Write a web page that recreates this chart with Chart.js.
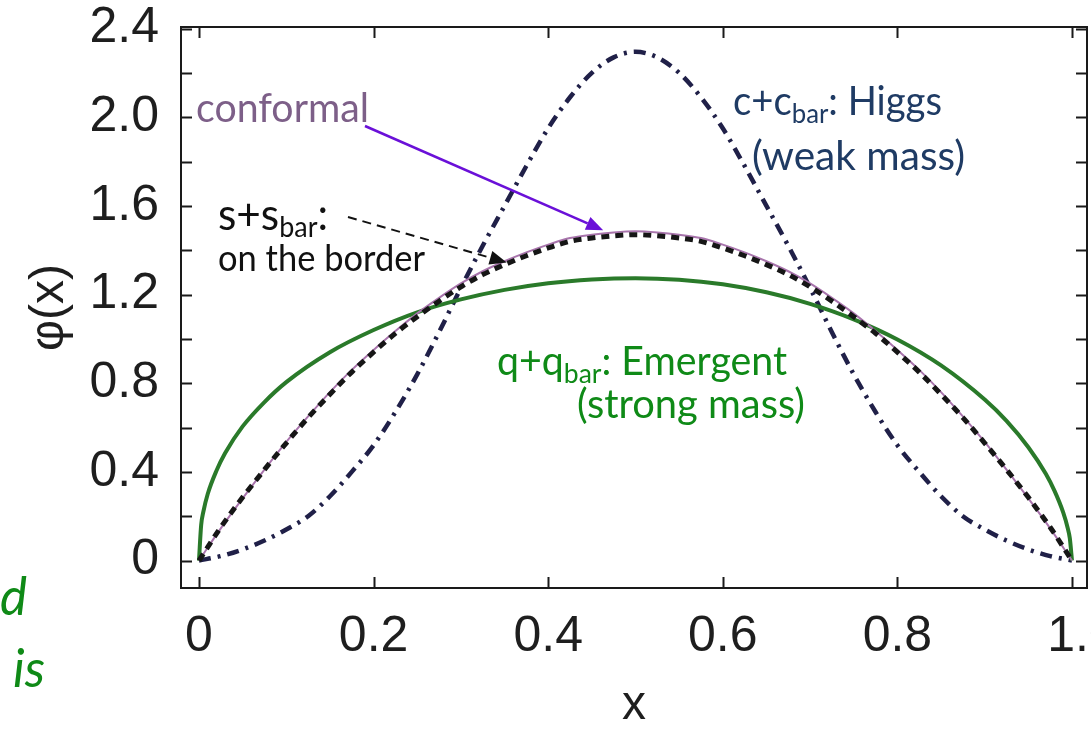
<!DOCTYPE html>
<html>
<head>
<meta charset="utf-8">
<title>Distribution amplitudes</title>
<script src="https://cdn.jsdelivr.net/npm/chart.js@4.4.1/dist/chart.umd.min.js"></script>
<style>
    html, body { margin: 0; padding: 0; background: #ffffff; overflow: hidden; }
    canvas { display: block; }
</style>
</head>
<body>
<canvas id="daChart" width="1091" height="731"></canvas>
<script>
// Axis ticks
const xTicks = [0, 0.2, 0.4, 0.6, 0.8, 1.0];
const xTickLabels = ['0', '0.2', '0.4', '0.6', '0.8', '\u2009\u20091.0'];
const yTicks = [0, 0.4, 0.8, 1.2, 1.6, 2.0, 2.4];
const yTickLabels = ['0', '0.4', '0.8', '1.2', '1.6', '2.0', '2.4'];
const yMinorTicks = [0.2, 0.6, 1.0, 1.4, 1.8, 2.2];

// Sample positions
const xGrid = [0, 0.025, 0.05, 0.075, 0.1, 0.125, 0.15, 0.175, 0.2, 0.225, 0.25, 0.275, 0.3, 0.325, 0.35, 0.375, 0.4, 0.425, 0.45, 0.475, 0.5,
               0.525, 0.55, 0.575, 0.6, 0.625, 0.65, 0.675, 0.7, 0.725, 0.75, 0.775, 0.8, 0.825, 0.85, 0.875, 0.9, 0.925, 0.95, 0.975, 1];

// conformal (thin purple line)
const conformalY = [0, 0.145, 0.28, 0.41, 0.535, 0.65, 0.76, 0.86, 0.95, 1.035, 1.115, 1.185, 1.25, 1.305, 1.35, 1.39, 1.425, 1.455, 1.47, 1.48, 1.485,
                    1.48, 1.47, 1.455, 1.425, 1.39, 1.35, 1.305, 1.25, 1.185, 1.115, 1.035, 0.95, 0.86, 0.76, 0.65, 0.535, 0.41, 0.28, 0.145, 0];

// s + s_bar (black dashed)
const strangeY = [0, 0.15, 0.285, 0.41, 0.53, 0.645, 0.75, 0.85, 0.94, 1.025, 1.1, 1.17, 1.235, 1.29, 1.335, 1.375, 1.41, 1.44, 1.455, 1.465, 1.47,
                  1.465, 1.455, 1.44, 1.41, 1.375, 1.335, 1.29, 1.235, 1.17, 1.1, 1.025, 0.94, 0.85, 0.75, 0.645, 0.53, 0.41, 0.285, 0.15, 0];

// c + c_bar (dash-dot, Higgs)
const charmY = [0, 0.02, 0.05, 0.09, 0.14, 0.2, 0.29, 0.4, 0.52, 0.67, 0.84, 1.03, 1.23, 1.42, 1.6, 1.78, 1.95, 2.09, 2.2, 2.27, 2.295,
                2.27, 2.2, 2.09, 1.95, 1.78, 1.6, 1.42, 1.23, 1.03, 0.84, 0.67, 0.52, 0.4, 0.29, 0.2, 0.14, 0.09, 0.05, 0.02, 0];

// q + q_bar (green solid, emergent)
const lightX = [0, 0.0025, 0.005, 0.01, 0.02, 0.03, 0.05, 0.075, 0.1, 0.15, 0.2, 0.25, 0.3, 0.35, 0.4, 0.45, 0.5,
                0.55, 0.6, 0.65, 0.7, 0.75, 0.8, 0.85, 0.9, 0.925, 0.95, 0.97, 0.98, 0.99, 0.995, 0.9975, 1];
const lightY = [0, 0.16, 0.22, 0.3, 0.405, 0.485, 0.605, 0.715, 0.805, 0.94, 1.04, 1.12, 1.178, 1.221, 1.251, 1.268, 1.274,
                1.267, 1.246, 1.21, 1.158, 1.088, 0.997, 0.88, 0.726, 0.63, 0.511, 0.391, 0.314, 0.216, 0.148, 0.101, 0];

const TEXT_FONT = 'Lato, "Open Sans", sans-serif';

function toPoints(xs, ys) {
    return xs.map((x, i) => ({ x: x, y: ys[i] }));
}

// Draw a line of text made of parts (with subscripts), squeezed to a target width
function drawRichText(ctx, parts, left, baseline, targetWidth, color, style) {
    const fontStyle = style || '';
    let natural = 0;
    parts.forEach(p => {
        ctx.font = fontStyle + ' ' + p.size + 'px ' + TEXT_FONT;
        natural += ctx.measureText(p.t).width;
    });
    const sx = targetWidth ? targetWidth / natural : 1;
    ctx.save();
    ctx.translate(left, baseline);
    ctx.scale(sx, 1);
    ctx.fillStyle = color;
    ctx.textBaseline = 'alphabetic';
    ctx.textAlign = 'left';
    let cx = 0;
    parts.forEach(p => {
        ctx.font = fontStyle + ' ' + p.size + 'px ' + TEXT_FONT;
        ctx.fillText(p.t, cx, p.dy || 0);
        cx += ctx.measureText(p.t).width;
    });
    ctx.restore();
}

function drawArrow(ctx, x0, y0, x1, y1, color, width, dash) {
    const ang = Math.atan2(y1 - y0, x1 - x0);
    const headLen = 17;
    const headHalf = 7;
    ctx.save();
    ctx.strokeStyle = color;
    ctx.fillStyle = color;
    ctx.lineWidth = width;
    ctx.setLineDash(dash || []);
    ctx.beginPath();
    ctx.moveTo(x0, y0);
    ctx.lineTo(x1 - headLen * Math.cos(ang), y1 - headLen * Math.sin(ang));
    ctx.stroke();
    ctx.setLineDash([]);
    ctx.beginPath();
    ctx.moveTo(x1, y1);
    ctx.lineTo(x1 - headLen * Math.cos(ang) + headHalf * Math.sin(ang), y1 - headLen * Math.sin(ang) - headHalf * Math.cos(ang));
    ctx.lineTo(x1 - headLen * Math.cos(ang) - headHalf * Math.sin(ang), y1 - headLen * Math.sin(ang) + headHalf * Math.cos(ang));
    ctx.closePath();
    ctx.fill();
    ctx.restore();
}

// Frame with inward ticks on all four sides
const framePlugin = {
    id: 'frame',
    afterDatasetsDraw(chart) {
        const { ctx, chartArea: a, scales } = chart;
        const xs = scales.x, ys = scales.y;
        ctx.save();
        ctx.strokeStyle = '#1a1a1a';
        ctx.lineWidth = 2;
        ctx.strokeRect(a.left, a.top, a.right - a.left, a.bottom - a.top);
        ctx.beginPath();
        xTicks.forEach(v => {
            const px = Math.round(xs.getPixelForValue(v)) + 0.5;
            ctx.moveTo(px, a.bottom); ctx.lineTo(px, a.bottom - 11);
            ctx.moveTo(px, a.top); ctx.lineTo(px, a.top + 11);
        });
        yTicks.concat(yMinorTicks).forEach(v => {
            const py = Math.round(ys.getPixelForValue(v)) + 0.5;
            ctx.moveTo(a.left, py); ctx.lineTo(a.left + 11, py);
            ctx.moveTo(a.right, py); ctx.lineTo(a.right - 11, py);
        });
        ctx.stroke();
        ctx.restore();
    }
};

// Slide annotations around the plot
const annotationPlugin = {
    id: 'annotations',
    afterDraw(chart) {
        const { ctx, scales } = chart;
        const xs = scales.x, ys = scales.y;

        drawRichText(ctx, [{ t: 'conformal', size: 40 }], 196, 122, 173, '#7d5f88');
        drawArrow(ctx, 365, 126, xs.getPixelForValue(0.463), ys.getPixelForValue(1.49), '#6a10d8', 2.5);

        drawRichText(ctx, [{ t: 's+s', size: 44 }, { t: 'bar', size: 28, dy: 7 }, { t: ':', size: 44 }], 218, 230, 110, '#111111');
        drawRichText(ctx, [{ t: 'on the border', size: 36 }], 218, 271, 207, '#111111');
        drawArrow(ctx, 348, 217, xs.getPixelForValue(0.3525), ys.getPixelForValue(1.345), '#111111', 2, [9, 6]);

        drawRichText(ctx, [{ t: 'c+c', size: 40 }, { t: 'bar', size: 27, dy: 8 }, { t: ': Higgs', size: 40 }], 733, 115, 209, '#1f3b64');
        drawRichText(ctx, [{ t: '(weak mass)', size: 40 }], 752, 170, 213, '#1f3b64');

        drawRichText(ctx, [{ t: 'q+q', size: 40 }, { t: 'bar', size: 27, dy: 8 }, { t: ': Emergent', size: 40 }], 497, 375, 290, '#0f8a17');
        drawRichText(ctx, [{ t: '(strong mass)', size: 40 }], 577, 418, 228, '#0f8a17');

        // fragments of the slide text at the left edge
        drawRichText(ctx, [{ t: 'd', size: 52 }], 0, 615, 27, '#0f8a17', 'italic');
        drawRichText(ctx, [{ t: 'is', size: 52 }], 13, 687, 32, '#0f8a17', 'italic');
    }
};

const tickFont = { family: '"Liberation Sans", Arial, sans-serif', size: 50, lineHeight: 1.2 };

new Chart(document.getElementById('daChart'), {
    type: 'scatter',
    data: {
        datasets: [
            {
                label: 's+s_bar',
                data: toPoints(xGrid, strangeY),
                showLine: true,
                borderColor: '#161616',
                borderWidth: 5,
                borderDash: [8, 6],
                pointRadius: 0,
                cubicInterpolationMode: 'monotone'
            },
            {
                label: 'conformal',
                data: toPoints(xGrid, conformalY),
                showLine: true,
                borderColor: '#a874ac',
                borderWidth: 2,
                pointRadius: 0,
                cubicInterpolationMode: 'monotone'
            },
            {
                label: 'q+q_bar',
                data: toPoints(lightX, lightY),
                showLine: true,
                borderColor: '#2a7a2a',
                borderWidth: 4,
                pointRadius: 0,
                cubicInterpolationMode: 'monotone'
            },
            {
                label: 'c+c_bar',
                data: toPoints(xGrid, charmY),
                showLine: true,
                borderColor: '#202048',
                borderWidth: 4.5,
                borderDash: [12, 7, 3, 7],
                pointRadius: 0,
                cubicInterpolationMode: 'monotone'
            }
        ]
    },
    options: {
        responsive: false,
        animation: false,
        devicePixelRatio: 1,
        layout: { padding: { top: 27, right: 4, left: 0, bottom: 0 } },
        plugins: {
            legend: { display: false },
            tooltip: { enabled: false }
        },
        scales: {
            x: {
                type: 'linear',
                min: -0.0206,
                max: 1.0172,
                afterBuildTicks: scale => { scale.ticks = xTicks.map(v => ({ value: v })); },
                afterFit: scale => { scale.height = 143; scale.paddingLeft = 0; scale.paddingRight = 0; },
                grid: { display: false },
                border: { display: false },
                ticks: {
                    autoSkip: false,
                    maxRotation: 0,
                    padding: 11,
                    color: '#1e1e1e',
                    font: tickFont,
                    callback: (value, index) => xTickLabels[index]
                },
                title: {
                    display: true,
                    text: 'x',
                    color: '#1e1e1e',
                    font: { family: '"Liberation Sans", Arial, sans-serif', size: 48, lineHeight: 1 },
                    padding: { top: 0, bottom: 1 }
                }
            },
            y: {
                type: 'linear',
                min: -0.124,
                max: 2.407,
                afterBuildTicks: scale => { scale.ticks = yTicks.map(v => ({ value: v })); },
                afterFit: scale => { scale.width = 181; scale.paddingTop = 0; scale.paddingBottom = 0; },
                grid: { display: false },
                border: { display: false },
                ticks: {
                    autoSkip: false,
                    padding: 14,
                    color: '#1e1e1e',
                    font: tickFont,
                    callback: (value, index) => yTickLabels[index]
                },
                title: {
                    display: true,
                    text: 'φ(x)',
                    color: '#1e1e1e',
                    font: { family: '"Liberation Sans", Arial, sans-serif', size: 48, lineHeight: 1 },
                    padding: { top: 26, bottom: 0 }
                }
            }
        }
    },
    plugins: [framePlugin, annotationPlugin]
});
</script>
</body>
</html>
